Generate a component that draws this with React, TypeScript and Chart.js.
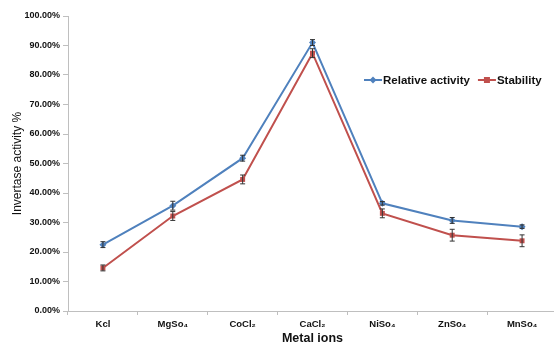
import React, { useEffect, useRef } from 'react';
import { Chart, registerables } from 'chart.js';

Chart.register(...registerables);

const categories = ['Kcl', 'MgSo₄', 'CoCl₂', 'CaCl₂', 'NiSo₄', 'ZnSo₄', 'MnSo₄'];
const relativeActivity = [22.5, 35.7, 51.8, 91.0, 36.5, 30.7, 28.6];
const relativeError = [1.0, 1.5, 1.0, 1.0, 0.6, 1.0, 0.6];
const stability = [14.6, 32.2, 44.6, 87.4, 33.1, 25.7, 23.8];
const stabilityError = [1.0, 1.5, 1.5, 1.5, 1.5, 2.0, 2.0];
const seriesNames = ['Relative activity', 'Stability'];
const yMin = 0;
const yMax = 100;
const yStep = 10;

const BLUE = '#4f81bd';
const RED = '#c0504d';
const FONT = 'Arial, "Liberation Sans", sans-serif';

const errorBars = {
  id: 'errorBars',
  afterDatasetsDraw(chart: any) {
    const ctx = chart.ctx;
    const y = chart.scales.y;
    chart.data.datasets.forEach((ds: any, i: number) => {
      const meta = chart.getDatasetMeta(i);
      meta.data.forEach((pt: any, j: number) => {
        const v = ds.data[j];
        const e = ds.errors[j];
        const top = y.getPixelForValue(v + e);
        const bot = y.getPixelForValue(v - e);
        ctx.save();
        ctx.strokeStyle = '#333';
        ctx.lineWidth = 1;
        ctx.beginPath();
        ctx.moveTo(pt.x, top);
        ctx.lineTo(pt.x, bot);
        ctx.moveTo(pt.x - 2.5, top);
        ctx.lineTo(pt.x + 2.5, top);
        ctx.moveTo(pt.x - 2.5, bot);
        ctx.lineTo(pt.x + 2.5, bot);
        ctx.stroke();
        ctx.restore();
      });
    });
  },
};

const customLegend = {
  id: 'customLegend',
  afterDraw(chart: any) {
    const ctx = chart.ctx;
    const area = chart.chartArea;
    const yc = area.top + 64;
    let x = area.right - 193;
    ctx.save();
    ctx.font = `bold 11.5px ${FONT}`;
    ctx.textBaseline = 'middle';
    chart.data.datasets.forEach((ds: any) => {
      const color = ds.borderColor;
      ctx.strokeStyle = color;
      ctx.lineWidth = 2;
      ctx.beginPath();
      ctx.moveTo(x, yc);
      ctx.lineTo(x + 18, yc);
      ctx.stroke();
      ctx.fillStyle = color;
      const cx = x + 9;
      if (ds.pointStyle === 'rect') {
        ctx.fillRect(cx - 3, yc - 3, 6, 6);
      } else {
        ctx.beginPath();
        ctx.moveTo(cx, yc - 3.5);
        ctx.lineTo(cx + 3.5, yc);
        ctx.lineTo(cx, yc + 3.5);
        ctx.lineTo(cx - 3.5, yc);
        ctx.closePath();
        ctx.fill();
      }
      ctx.fillStyle = '#111';
      ctx.fillText(ds.label, x + 19, yc + 0.5);
      x += 19 + ctx.measureText(ds.label).width + 8;
    });
    ctx.restore();
  },
};

export default function App() {
  const ref = useRef<HTMLCanvasElement>(null);
  useEffect(() => {
    if (!ref.current) return;
    const chart = new Chart(ref.current, {
      type: 'line',
      data: {
        labels: categories,
        datasets: [
          {
            label: seriesNames[0],
            data: relativeActivity,
            errors: relativeError,
            borderColor: BLUE,
            backgroundColor: BLUE,
            borderWidth: 2,
            pointStyle: 'rectRot',
            pointRadius: 3.5,
            pointBorderWidth: 0,
            tension: 0,
          } as any,
          {
            label: seriesNames[1],
            data: stability,
            errors: stabilityError,
            borderColor: RED,
            backgroundColor: RED,
            borderWidth: 2,
            pointStyle: 'rect',
            pointRadius: 3.5,
            pointBorderWidth: 0,
            tension: 0,
          } as any,
        ],
      },
      options: {
        responsive: false,
        animation: false,
        layout: { padding: { top: 16, right: 0, bottom: 0, left: 0 } },
        plugins: {
          legend: { display: false },
          tooltip: { enabled: false },
        },
        scales: {
          x: {
            offset: true,
            grid: { display: true, drawOnChartArea: false, offset: true, tickLength: 4, color: '#bfbfbf' },
            border: { color: '#bfbfbf' },
            ticks: { font: { family: FONT, size: 9.5, weight: 'bold' }, color: '#111', padding: 4, maxRotation: 0 },
            title: { display: true, text: 'Metal ions', font: { family: FONT, size: 12.5, weight: 'bold' }, color: '#111', padding: { top: 2, bottom: 0 } },
            afterFit(scale: any) { scale.height = 35; },
          },
          y: {
            min: yMin,
            max: yMax,
            grid: { display: true, drawOnChartArea: false, tickLength: 5, color: '#bfbfbf' },
            border: { color: '#bfbfbf' },
            ticks: {
              stepSize: yStep,
              font: { family: FONT, size: 9, weight: 'bold' },
              color: '#111',
              padding: 3,
              callback: (v: any) => Number(v).toFixed(2) + '%',
            },
            title: { display: true, text: 'Invertase activity %', font: { family: FONT, size: 12 }, color: '#111', padding: { top: 10, bottom: 4 } },
            afterFit(scale: any) { scale.width = 68; },
          },
        },
      } as any,
      plugins: [errorBars, customLegend],
    });
    return () => chart.destroy();
  }, []);
  return (
    <div style={{ position: 'absolute', left: 0, top: 0, width: 554, height: 346, background: '#fff', overflow: 'hidden' }}>
      <canvas ref={ref} width={561} height={346} style={{ display: 'block' }} />
    </div>
  );
}
